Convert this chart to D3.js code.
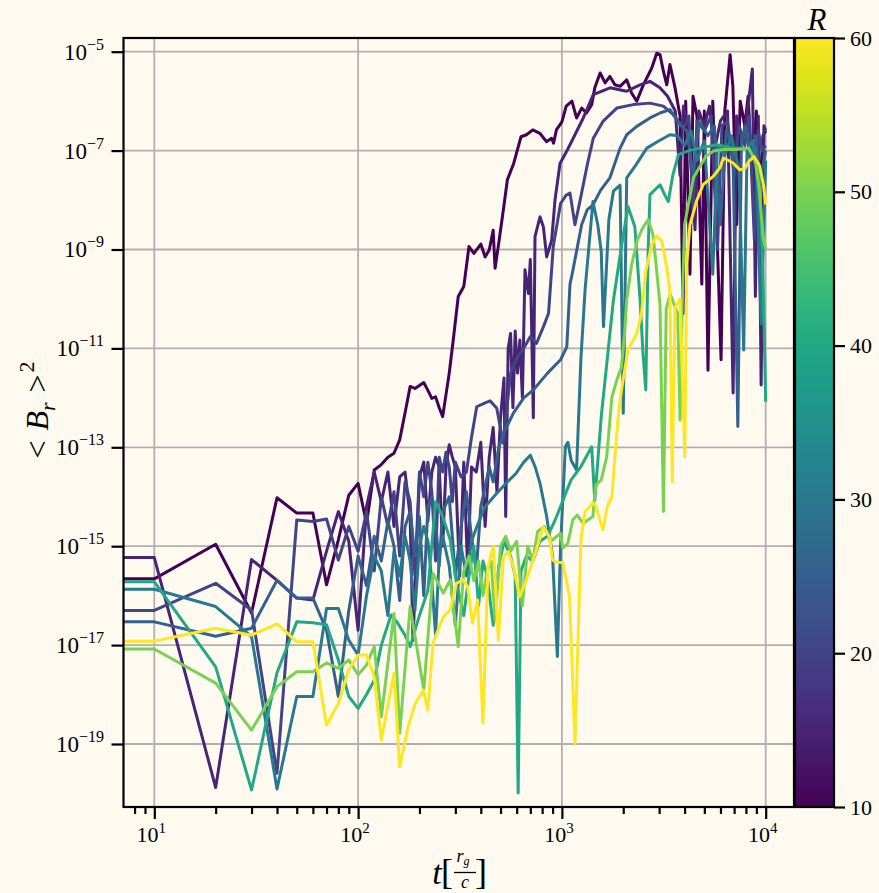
<!DOCTYPE html>
<html>
<head>
<meta charset="utf-8">
<script src="https://cdn.jsdelivr.net/npm/d3@7"></script>
<style>
  body { margin: 0; background: #fffaf0; }
  text { font-family: "Liberation Serif", "DejaVu Serif", serif; fill: #000; }
</style>
</head>
<body>
<svg id="chart" width="879" height="893"></svg>
<script>
// radii of the runs, one line each
const radii = [10, 15, 20, 25, 30, 40, 50, 60];

// [t, log10 <B_r>^2]
const r10 = [[5,-15.66],[10,-15.66],[20,-14.96],[30,-16.35],[40,-14.02],[50,-14.33],[60,-14.33],[70,-15.78],[80,-14.87],[90,-13.97],[100,-13.73],[110,-14.54],[120,-13.46],[130,-13.35],[140,-13.2],[150,-13.12],[160,-12.85],[170,-12.3],[180,-11.77],[190,-11.81],[200,-11.75],[210,-11.69],[220,-11.85],[230,-12.01],[240,-11.98],[250,-12.2],[260,-12.38],[280,-11.5],[293,-10.83],[310,-9.95],[330,-9.75],[350,-8.94],[370,-9.08],[400,-8.89],[420,-9.15],[440,-9.01],[460,-8.61],[470,-9.38],[490,-8.87],[520,-8.1],[540,-7.59],[580,-7.26],[630,-6.72],[670,-6.68],[720,-6.58],[780,-6.65],[840,-6.82],[890,-6.75],[910,-6.85],[940,-6.58],[1000,-6.42],[1050,-6.1],[1120,-6.0],[1180,-6.34],[1250,-6.14],[1320,-6.24],[1400,-6.07],[1450,-5.73],[1540,-5.43],[1630,-5.63],[1720,-5.5],[1820,-5.67],[1930,-5.7],[2080,-5.57],[2200,-5.84],[2330,-6.0],[2510,-5.67],[2760,-5.33],[2920,-5.03],[3030,-5.06],[3150,-5.4],[3270,-5.67],[3390,-5.26],[3590,-5.73],[3800,-6.3],[3930,-10.3],[4050,-6.0],[4250,-9.5],[4400,-5.9],[4600,-6.3],[4860,-9.7],[5000,-6.2],[5210,-11.44],[5500,-6.0],[6040,-11.23],[6300,-6.2],[6690,-5.06],[6900,-5.7],[7200,-8.5],[7500,-6.0],[7900,-6.5],[8200,-5.9],[8570,-7.5],[9000,-6.2],[9300,-8.0],[9700,-6.7],[10000,-6.6]];

const r15 = [[5,-15.23],[10,-15.23],[20,-19.88],[30,-15.27],[40,-15.69],[50,-16.05],[60,-16.09],[70,-15.1],[80,-14.3],[90,-14.9],[100,-16.7],[110,-14.2],[120,-13.5],[130,-14.1],[140,-13.5],[150,-14.6],[160,-13.6],[170,-13.5],[180,-14.4],[186,-16.9],[200,-13.6],[210,-13.3],[220,-14.5],[230,-13.5],[240,-13.2],[250,-13.4],[260,-15.0],[270,-13.4],[280,-12.95],[290,-13.2],[300,-13.4],[315,-15.6],[330,-13.3],[345,-15.5],[360,-13.4],[380,-13.5],[400,-12.9],[420,-14.6],[440,-13.2],[460,-12.6],[480,-13.9],[500,-12.4],[520,-11.6],[530,-14.4],[545,-11.0],[560,-10.7],[575,-12.2],[590,-10.65],[605,-11.5],[622,-10.83],[640,-12.0],[659,-9.41],[685,-9.89],[700,-9.2],[724,-12.4],[738,-8.74],[781,-8.34],[811,-8.54],[842,-9.15],[891,-8.81],[925,-8.0],[979,-7.26],[1057,-7.01],[1159,-6.68],[1273,-6.34],[1426,-5.87],[1722,-5.73],[2078,-5.8],[2416,-5.67],[2705,-5.6],[3030,-5.73],[3300,-5.9],[3600,-6.2],[3800,-7.5],[3950,-6.1],[4200,-6.6],[4500,-8.6],[4700,-6.2],[5000,-6.5],[5300,-6.1],[5600,-7.0],[6000,-6.4],[6500,-6.2],[6920,-11.9],[7200,-6.3],[7700,-6.8],[8200,-6.1],[8600,-5.35],[8900,-9.95],[9200,-6.3],[9500,-11.74],[9800,-6.5],[10000,-6.6]];

const r20 = [[5,-16.3],[10,-16.3],[20,-15.75],[30,-16.29],[40,-19.59],[50,-14.47],[60,-14.5],[70,-14.45],[80,-15.28],[90,-14.6],[100,-15.1],[110,-14.3],[120,-15.5],[130,-14.0],[140,-14.6],[150,-13.9],[160,-15.2],[170,-13.7],[180,-14.1],[190,-15.6],[200,-13.5],[210,-14.0],[220,-13.3],[230,-13.9],[240,-15.3],[250,-13.2],[260,-13.5],[270,-13.1],[280,-13.4],[290,-14.1],[300,-13.3],[320,-13.6],[340,-13.5],[360,-12.8],[382,-12.18],[420,-12.1],[444,-12.06],[479,-12.21],[516,-12.92],[560,-11.5],[600,-11.2],[650,-11.0],[700,-10.76],[750,-10.9],[812,-10.56],[860,-10.29],[907,-8.94],[985,-8.07],[1050,-7.9],[1096,-7.86],[1159,-8.5],[1235,-7.96],[1330,-7.3],[1426,-6.75],[1590,-6.41],[1860,-6.14],[2240,-6.07],[2705,-6.04],[3145,-6.1],[3520,-6.27],[3950,-6.54],[4200,-6.3],[4400,-8.2],[4600,-6.4],[5000,-6.6],[5400,-6.3],[5800,-9.0],[6100,-6.5],[6500,-6.4],[7000,-7.5],[7400,-6.5],[7900,-6.9],[8300,-6.3],[8800,-8.8],[9200,-6.6],[9600,-7.0],[10000,-6.9]];

const r25 = [[5,-16.53],[10,-16.53],[20,-16.82],[30,-16.66],[40,-15.69],[50,-16.05],[60,-16.05],[70,-16.7],[80,-18.04],[90,-16.3],[100,-15.2],[110,-15.8],[120,-14.8],[130,-15.3],[140,-14.5],[150,-15.0],[160,-16.1],[170,-14.6],[180,-14.3],[190,-15.2],[200,-14.4],[210,-16.0],[220,-14.2],[230,-14.0],[240,-14.5],[250,-15.4],[260,-14.3],[280,-14.0],[300,-15.6],[320,-14.6],[340,-13.9],[360,-14.8],[380,-15.5],[400,-14.2],[420,-13.8],[440,-13.4],[460,-13.7],[490,-13.0],[520,-12.7],[578,-12.31],[650,-12.0],[724,-11.84],[850,-11.5],[985,-11.23],[1057,-10.97],[1096,-9.7],[1130,-9.44],[1250,-8.5],[1330,-8.2],[1420,-8.1],[1550,-7.8],[1720,-7.55],[1930,-6.95],[2080,-6.68],[2330,-6.51],[2705,-6.34],[3030,-6.24],[3390,-6.17],[3800,-6.48],[4100,-6.6],[4400,-7.5],[4700,-6.4],[5200,-6.7],[5600,-6.5],[6000,-8.5],[6400,-6.6],[6900,-6.9],[7300,-12.58],[7600,-6.8],[8000,-6.5],[8400,-7.2],[8900,-6.7],[9400,-7.6],[10000,-7.0]];

const r30 = [[5,-15.87],[10,-15.87],[20,-16.22],[30,-16.83],[40,-19.91],[50,-18.04],[60,-18.04],[70,-16.26],[80,-16.26],[90,-16.9],[100,-17.2],[110,-16.0],[120,-15.2],[130,-15.5],[140,-16.4],[150,-15.1],[160,-15.6],[170,-14.8],[180,-15.3],[190,-16.3],[200,-15.0],[210,-14.6],[220,-14.9],[230,-15.7],[240,-16.8],[250,-15.2],[260,-14.8],[280,-15.4],[300,-16.6],[320,-15.0],[340,-15.6],[360,-14.9],[382,-14.61],[420,-14.2],[479,-13.93],[540,-13.7],[595,-13.53],[650,-13.3],[700,-13.16],[740,-13.4],[781,-13.73],[842,-14.4],[900,-15.2],[950,-17.23],[985,-15.0],[1040,-12.99],[1070,-12.9],[1110,-13.26],[1180,-13.46],[1240,-11.2],[1300,-9.8],[1420,-8.03],[1500,-8.5],[1560,-9.04],[1600,-10.56],[1700,-8.4],[1790,-7.82],[1930,-7.7],[2000,-12.31],[2080,-7.55],[2300,-7.3],[2610,-6.95],[3000,-6.8],[3390,-6.68],[3700,-6.7],[4000,-6.9],[4300,-6.6],[4600,-7.2],[5000,-6.8],[5500,-9.5],[5800,-6.9],[6300,-7.1],[6800,-6.7],[7400,-7.4],[7800,-11.03],[8100,-7.0],[8600,-6.8],[9000,-7.3],[9500,-10.5],[10000,-7.2]];

const r40 = [[5,-15.72],[10,-15.72],[20,-17.44],[30,-19.93],[40,-17.56],[50,-16.53],[60,-16.55],[70,-16.59],[80,-17.3],[90,-18.04],[100,-18.28],[110,-18.0],[120,-17.71],[130,-17.0],[145,-16.39],[155,-16.53],[170,-16.8],[180,-17.03],[200,-16.4],[220,-15.89],[240,-14.1],[260,-14.4],[283,-14.87],[304,-15.75],[330,-16.4],[350,-15.6],[370,-15.0],[390,-16.2],[410,-15.3],[430,-15.6],[460,-16.6],[490,-15.4],[520,-14.9],[560,-15.2],[590,-15.6],[610,-19.99],[630,-15.5],[670,-15.2],[720,-15.3],[780,-14.9],[850,-14.8],[920,-14.5],[985,-14.2],[1050,-13.9],[1110,-13.66],[1240,-13.39],[1400,-12.99],[1450,-14.07],[1560,-12.38],[1720,-10.7],[1790,-10.02],[1950,-9.0],[2110,-8.13],[2280,-8.54],[2420,-10.02],[2500,-11.1],[2580,-11.84],[2650,-9.0],[2705,-7.89],[3030,-7.69],[3200,-7.9],[3330,-8.03],[3500,-7.5],[3730,-7.08],[4200,-7.0],[4760,-6.95],[5750,-6.88],[6920,-6.95],[8260,-6.95],[9280,-7.42],[9700,-9.5],[10000,-12.08]];

const r50 = [[5,-17.08],[10,-17.08],[20,-17.77],[30,-18.72],[40,-17.84],[50,-17.54],[60,-17.54],[70,-17.36],[80,-17.47],[90,-17.3],[100,-17.6],[110,-17.4],[120,-17.03],[130,-18.45],[150,-16.36],[160,-18.78],[180,-16.22],[210,-17.91],[233,-15.55],[262,-15.95],[283,-15.68],[310,-17.03],[330,-15.5],[350,-15.2],[370,-15.7],[390,-15.3],[410,-16.0],[430,-15.5],[450,-15.3],[470,-16.5],[500,-15.0],[530,-14.8],[560,-15.1],[600,-14.9],[640,-16.2],[680,-15.0],[720,-15.3],[760,-14.7],[820,-14.6],[880,-14.9],[985,-14.74],[1010,-15.04],[1070,-14.94],[1130,-14.47],[1190,-14.37],[1270,-14.54],[1340,-14.47],[1420,-14.4],[1440,-14.07],[1470,-13.76],[1560,-13.66],[1660,-13.19],[1760,-11.98],[1860,-11.64],[1960,-11.37],[2030,-10.7],[2080,-10.02],[2200,-9.3],[2350,-8.8],[2500,-8.55],[2650,-8.4],[2800,-8.7],[2920,-9.44],[3030,-10.12],[3150,-14.3],[3250,-10.2],[3400,-9.9],[3550,-10.1],[3700,-10.3],[3800,-12.45],[3900,-10.0],[4000,-8.5],[4420,-7.55],[4760,-7.32],[5080,-7.12],[5530,-7.01],[6200,-6.98],[7200,-6.98],[8260,-6.95],[8900,-7.22],[9280,-7.76],[9730,-8.77],[10000,-9.0]];

const r60 = [[5,-16.92],[10,-16.92],[20,-16.66],[30,-16.8],[40,-16.57],[50,-16.93],[60,-16.93],[70,-18.62],[80,-18.18],[90,-17.5],[100,-17.2],[110,-17.2],[120,-17.64],[130,-18.92],[150,-17.57],[160,-19.46],[176,-18.65],[190,-18.2],[209,-17.91],[220,-18.31],[233,-16.96],[262,-16.43],[283,-16.29],[304,-15.75],[328,-15.68],[345,-15.82],[364,-16.56],[386,-16.09],[410,-18.58],[434,-15.41],[461,-15.01],[488,-16.9],[516,-15.21],[546,-15.11],[578,-15.41],[620,-16.02],[670,-15.68],[750,-15.07],[810,-14.61],[870,-14.81],[900,-15.28],[950,-15.33],[1010,-15.33],[1090,-16.02],[1160,-18.99],[1240,-14.87],[1300,-14.3],[1420,-14.13],[1470,-14.2],[1590,-14.67],[1670,-14.2],[1760,-14.0],[1820,-13.19],[1890,-12.38],[1960,-11.84],[2110,-11.03],[2330,-10.7],[2460,-10.29],[2580,-9.44],[2760,-8.9],[2920,-8.73],[3090,-8.83],[3270,-9.37],[3390,-9.85],[3480,-13.7],[3590,-10.18],[3800,-10.0],[4010,-13.19],[4100,-9.3],[4250,-8.5],[4570,-8.03],[4930,-7.69],[5530,-7.52],[5960,-7.35],[6200,-7.15],[6430,-7.18],[6920,-7.25],[7470,-7.39],[7920,-7.36],[8260,-7.22],[8760,-7.12],[9300,-7.29],[9750,-7.69],[10000,-8.09]];

const series = [r10, r15, r20, r25, r30, r40, r50, r60];

// tick values
const xTicks = [10, 100, 1000, 10000];
const xMinor = [8, 9, 20, 30, 40, 50, 60, 70, 80, 90, 200, 300, 400, 500, 600, 700, 800, 900,
                2000, 3000, 4000, 5000, 6000, 7000, 8000, 9000];
const yTickExp = [-5, -7, -9, -11, -13, -15, -17, -19];
const cbTicks = [10, 20, 30, 40, 50, 60];

const svg = d3.select("#chart");
const box = { left: 123.5, top: 38, right: 794, bottom: 807 };

const x = d3.scaleLog().domain([7.06, 13770]).range([box.left, box.right]);
const y = d3.scaleLog().domain([Math.pow(10, -20.274), Math.pow(10, -4.723)]).range([box.bottom, box.top]);
const color = r => d3.interpolateViridis((r - 10) / 50);

svg.append("rect").attr("width", 879).attr("height", 893).attr("fill", "#fffaf0");

svg.append("clipPath").attr("id", "plotclip")
  .append("rect")
  .attr("x", box.left).attr("y", box.top)
  .attr("width", box.right - box.left).attr("height", box.bottom - box.top);

// grid
const grid = svg.append("g").attr("stroke", "#b0b0b0").attr("stroke-width", 1.8);
grid.selectAll(".gx").data(xTicks).join("line")
  .attr("x1", d => x(d)).attr("x2", d => x(d))
  .attr("y1", box.top).attr("y2", box.bottom);
grid.selectAll(".gy").data(yTickExp).join("line")
  .attr("y1", d => y(Math.pow(10, d))).attr("y2", d => y(Math.pow(10, d)))
  .attr("x1", box.left).attr("x2", box.right);

// lines
const line = d3.line()
  .x(d => x(d[0]))
  .y(d => y(Math.pow(10, d[1])));

svg.append("g").attr("clip-path", "url(#plotclip)")
  .selectAll("path").data(series).join("path")
  .attr("d", line)
  .attr("fill", "none")
  .attr("stroke", (d, i) => color(radii[i]))
  .attr("stroke-width", 3)
  .attr("stroke-linejoin", "round");

// axes
const axX = svg.append("g").attr("transform", `translate(0,${box.bottom})`)
  .call(d3.axisBottom(x).tickValues(xTicks).tickSize(12).tickFormat(""));
const axXm = svg.append("g").attr("transform", `translate(0,${box.bottom})`)
  .call(d3.axisBottom(x).tickValues(xMinor).tickSize(7).tickFormat(""));
const axY = svg.append("g").attr("transform", `translate(${box.left},0)`)
  .call(d3.axisLeft(y).tickValues(yTickExp.map(e => Math.pow(10, e))).tickSize(12).tickFormat(""));
[axX, axXm, axY].forEach(a => {
  a.select(".domain").remove();
  a.selectAll(".tick line").attr("stroke", "#000").attr("stroke-width", 2.2);
});

// tick labels with superscripts
xTicks.forEach(v => {
  const t = svg.append("text")
    .attr("x", x(v) - 3).attr("y", 842)
    .attr("text-anchor", "middle").style("font-size", "22px");
  t.append("tspan").text("10");
  t.append("tspan").attr("dy", -9).style("font-size", "15px").text(Math.round(Math.log10(v)));
});
yTickExp.forEach(e => {
  const t = svg.append("text")
    .attr("x", 104).attr("y", y(Math.pow(10, e)) + 8)
    .attr("text-anchor", "end").style("font-size", "23px");
  t.append("tspan").text("10");
  t.append("tspan").attr("dy", -10).style("font-size", "16px").text("\u2212" + (-e));
});

// frame
svg.append("rect")
  .attr("x", box.left).attr("y", box.top)
  .attr("width", box.right - box.left).attr("height", box.bottom - box.top)
  .attr("fill", "none").attr("stroke", "#000").attr("stroke-width", 2.2);

// axis titles
const xl = svg.append("g");
xl.append("text").attr("x", 437).attr("y", 884).attr("text-anchor", "middle")
  .style("font-size", "34px").style("font-style", "italic").text("t");
xl.append("text").attr("x", 447).attr("y", 884).attr("text-anchor", "middle")
  .style("font-size", "36px").text("[");
const num = xl.append("text").attr("x", 463).attr("y", 862).attr("text-anchor", "middle")
  .style("font-size", "18px").style("font-style", "italic");
num.append("tspan").text("r");
num.append("tspan").attr("dy", 3).style("font-size", "12px").text("g");
xl.append("line").attr("x1", 454).attr("x2", 476).attr("y1", 872.5).attr("y2", 872.5)
  .attr("stroke", "#000").attr("stroke-width", 1.3);
xl.append("text").attr("x", 465).attr("y", 888).attr("text-anchor", "middle")
  .style("font-size", "18px").style("font-style", "italic").text("c");
xl.append("text").attr("x", 481).attr("y", 884).attr("text-anchor", "middle")
  .style("font-size", "36px").text("]");

const yl = svg.append("text")
  .attr("transform", "translate(48,410) rotate(-90)")
  .attr("text-anchor", "middle").style("font-size", "32px");
yl.append("tspan").text("<");
yl.append("tspan").attr("dx", 10).style("font-style", "italic").text("B");
yl.append("tspan").attr("dy", 7).style("font-style", "italic").style("font-size", "22px").text("r");
yl.append("tspan").attr("dy", -7).attr("dx", 10).text(">");
yl.append("tspan").attr("dy", -14).attr("dx", 2).style("font-size", "22px").text("2");

// colorbar
const cb = { left: 795, right: 834 };
const c = d3.scaleLinear().domain([10, 60]).range([box.bottom, box.top]);
const grad = svg.append("defs").append("linearGradient").attr("id", "viridis")
  .attr("x1", 0).attr("y1", 1).attr("x2", 0).attr("y2", 0);
grad.selectAll("stop").data(d3.range(0, 1.0001, 0.05)).join("stop")
  .attr("offset", d => d).attr("stop-color", d => d3.interpolateViridis(d));
svg.append("rect")
  .attr("x", cb.left).attr("y", box.top)
  .attr("width", cb.right - cb.left).attr("height", box.bottom - box.top)
  .attr("fill", "url(#viridis)").attr("stroke", "#000").attr("stroke-width", 2.2);
const axC = svg.append("g").attr("transform", `translate(${cb.right},0)`)
  .call(d3.axisRight(c).tickValues(cbTicks).tickSize(11).tickPadding(5));
axC.select(".domain").remove();
axC.selectAll(".tick line").attr("stroke", "#000").attr("stroke-width", 2.2);
axC.selectAll(".tick text").style("font-size", "22px")
  .style("font-family", "'Liberation Serif', serif").attr("fill", "#000");
svg.append("text").attr("x", 817).attr("y", 30).attr("text-anchor", "middle")
  .style("font-size", "31px").style("font-style", "italic").text("R");
</script>
</body>
</html>
